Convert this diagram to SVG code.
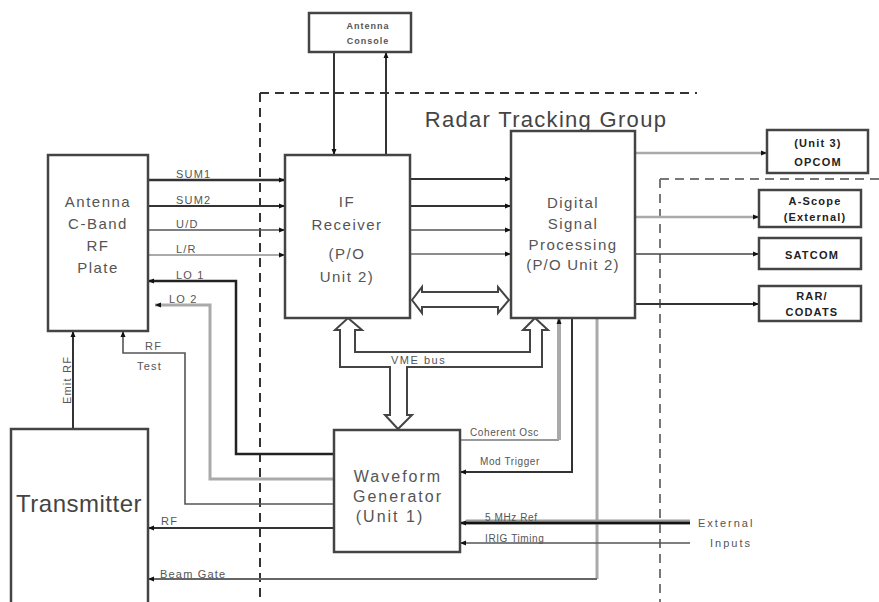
<svg xmlns="http://www.w3.org/2000/svg" width="879" height="602" viewBox="0 0 879 602">
<defs>
<marker id="ah" viewBox="0 0 6 6" refX="6" refY="3" markerWidth="6" markerHeight="6" markerUnits="userSpaceOnUse" orient="auto"><path d="M0,0.5 L6,3 L0,5.5 z" fill="#111"/></marker>
<style>
text{font-family:"Liberation Sans",Arial,sans-serif;fill:#555}
.box{fill:#fff;stroke:#444;stroke-width:2.5}
.big{font-size:15px;letter-spacing:1.5px;text-anchor:middle}
.lbl{font-size:11px;letter-spacing:1.2px}
.out{font-size:11px;font-weight:bold;letter-spacing:1.2px;text-anchor:middle;fill:#222}
.dk{fill:none;stroke:#333;stroke-width:2}
.md{fill:none;stroke:#555;stroke-width:1.6}
.lt{fill:none;stroke:#aaa;stroke-width:3}
.dash{fill:none;stroke:#333;stroke-width:2;stroke-dasharray:9,6}
.dashl{fill:none;stroke:#777;stroke-width:2;stroke-dasharray:9,6}
.hollow{fill:#fff;stroke:#444;stroke-width:2;stroke-linejoin:miter}
</style>
</defs>
<rect width="879" height="602" fill="#fff"/>

<g id="boundaries">
<path class="dash" d="M260,93 H697 M260,93 V602"/>
<path class="dashl" d="M660,179 H879 M660,179 V602"/>
<text x="546" y="127" style="font-size:22px;letter-spacing:1.3px;text-anchor:middle;fill:#444">Radar Tracking Group</text>
</g>

<g id="connectors">
<!-- Antenna console -->
<path class="dk" d="M334,52 V155" marker-end="url(#ah)"/>
<path class="dk" d="M386,155 V52" marker-end="url(#ah)"/>
<!-- Antenna plate to IF receiver -->
<path class="dk" style="stroke-width:2.5" d="M148,180 H285" marker-end="url(#ah)"/>
<path class="dk" d="M148,206 H285" marker-end="url(#ah)"/>
<path class="md" d="M148,230 H285" marker-end="url(#ah)"/>
<path class="lt" style="stroke-width:2.2" d="M148,255 H285" marker-end="url(#ah)"/>
<!-- IF to DSP -->
<path class="dk" d="M410,179 H511" marker-end="url(#ah)"/>
<path class="dk" d="M410,206 H511" marker-end="url(#ah)"/>
<path class="md" d="M410,230 H511" marker-end="url(#ah)"/>
<path class="md" style="stroke:#666" d="M410,254 H511" marker-end="url(#ah)"/>
<!-- LO1, LO2, RF Test -->
<path class="dk" style="stroke-width:2.5;stroke:#222" d="M334,454 H236 V281 H148" marker-end="url(#ah)"/>
<path class="lt" d="M334,479 H210 V305 H155" marker-end="url(#ah)"/>
<path class="md" d="M334,504 H185 V353 H123 V331" marker-end="url(#ah)"/>
<!-- Emit RF -->
<path class="dk" d="M73,429 V331" marker-end="url(#ah)"/>
<!-- RF to transmitter -->
<path class="dk" d="M334,528 H148" marker-end="url(#ah)"/>
<!-- Beam gate -->
<path class="lt" d="M597,318 V579"/>
<path class="md" style="stroke:#666;stroke-width:2" d="M597,579 H148" marker-end="url(#ah)"/>
<!-- Coherent Osc -->
<path class="md" style="stroke:#777" d="M460,440 H559"/>
<path class="lt" style="stroke-width:4" d="M559,440 V318" marker-end="url(#ah)"/>
<!-- Mod Trigger -->
<path class="dk" d="M572,318 V472 H460" marker-end="url(#ah)"/>
<!-- External inputs -->
<path fill="none" stroke="#999" stroke-width="5" d="M690,522 H466"/>
<path class="dk" style="stroke:#111;stroke-width:2.5" d="M690,523 H460" marker-end="url(#ah)"/>
<path class="md" d="M690,543 H460" marker-end="url(#ah)"/>
<!-- DSP outputs -->
<path class="lt" style="stroke-width:2.5" d="M635,153 H767" marker-end="url(#ah)"/>
<path class="lt" style="stroke-width:2.5" d="M635,217 H759" marker-end="url(#ah)"/>
<path class="md" style="stroke:#444" d="M635,254 H759" marker-end="url(#ah)"/>
<path class="dk" d="M635,304 H759" marker-end="url(#ah)"/>
<!-- IF <-> DSP double arrow -->
<path class="hollow" d="M412,300 L422,287 L422,292 L498,292 L498,287 L509,300 L498,313 L498,307 L422,307 L422,313 Z"/>
<!-- VME bus -->
<path class="hollow" d="M348,318 L362,330 L355,330 L355,352 L530,352 L530,330 L523,330 L535,318 L548,330 L542,330 L542,367 L407,367 L407,415 L412,415 L398,429 L385,415 L390,415 L390,367 L340,367 L340,330 L335,330 Z"/>
</g>

<g id="labels">
<text class="lbl" x="176" y="178">SUM1</text>
<text class="lbl" x="176" y="204">SUM2</text>
<text class="lbl" x="176" y="228">U/D</text>
<text class="lbl" x="176" y="253">L/R</text>
<text class="lbl" x="176" y="279">LO 1</text>
<text class="lbl" x="169" y="303">LO 2</text>
<text class="lbl" x="145" y="350">RF</text>
<text class="lbl" x="137" y="370">Test</text>
<text class="lbl" transform="translate(71,380) rotate(-90)" style="text-anchor:middle">Emit RF</text>
<text class="lbl" x="161" y="525">RF</text>
<text class="lbl" x="160" y="578">Beam Gate</text>
<text class="lbl" x="470" y="436" style="font-size:10px;letter-spacing:0.6px">Coherent Osc</text>
<text class="lbl" x="480" y="465" style="font-size:10px;letter-spacing:0.6px">Mod Trigger</text>
<text class="lbl" x="485" y="521" style="font-size:10px;letter-spacing:0.6px">5 MHz Ref</text>
<text class="lbl" x="485" y="542" style="font-size:10px;letter-spacing:0.6px">IRIG Timing</text>
<text class="lbl" x="391" y="364" style="letter-spacing:1.5px">VME bus</text>
<text class="lbl" x="698" y="527" style="letter-spacing:2px">External</text>
<text class="lbl" x="710" y="547" style="letter-spacing:2px">Inputs</text>
</g>

<g id="antenna-console">
<rect class="box" x="309" y="13" width="102" height="39"/>
<text x="368" y="29" style="font-size:9px;font-weight:bold;letter-spacing:1px;text-anchor:middle">Antenna</text>
<text x="368" y="44" style="font-size:9px;font-weight:bold;letter-spacing:1px;text-anchor:middle">Console</text>
</g>

<g id="antenna-plate">
<rect class="box" x="48" y="155" width="100" height="176"/>
<text class="big" x="98" y="207">Antenna</text>
<text class="big" x="98" y="229">C-Band</text>
<text class="big" x="98" y="251">RF</text>
<text class="big" x="98" y="273">Plate</text>
</g>

<g id="if-receiver">
<rect class="box" x="285" y="155" width="125" height="163"/>
<text class="big" x="347" y="207">IF</text>
<text class="big" x="347" y="230">Receiver</text>
<text class="big" x="347" y="259">(P/O</text>
<text class="big" x="347" y="282">Unit 2)</text>
</g>

<g id="dsp">
<rect class="box" x="511" y="131" width="124" height="187"/>
<text class="big" x="573" y="208">Digital</text>
<text class="big" x="573" y="229">Signal</text>
<text class="big" x="573" y="250">Processing</text>
<text class="big" x="573" y="270" style="letter-spacing:1.2px">(P/O Unit 2)</text>
</g>

<g id="waveform-generator">
<rect class="box" x="334" y="430" width="126" height="122"/>
<text class="big" x="398" y="482" style="font-size:16px;letter-spacing:2px">Waveform</text>
<text class="big" x="398" y="502" style="font-size:16px;letter-spacing:2px">Generator</text>
<text class="big" x="390" y="522" style="font-size:16px;letter-spacing:2px">(Unit 1)</text>
</g>

<g id="transmitter">
<rect class="box" x="11" y="429" width="137" height="185"/>
<text x="79" y="512" style="font-size:24px;letter-spacing:0.5px;text-anchor:middle;fill:#444">Transmitter</text>
</g>

<g id="opcom">
<rect class="box" x="767" y="130" width="101" height="43"/>
<text class="out" x="818" y="147">(Unit 3)</text>
<text class="out" x="818" y="166">OPCOM</text>
</g>

<g id="a-scope">
<rect class="box" x="759" y="190" width="102" height="37"/>
<text class="out" x="815" y="205">A-Scope</text>
<text class="out" x="815" y="221">(External)</text>
</g>

<g id="satcom">
<rect class="box" x="759" y="238" width="102" height="31"/>
<text class="out" x="812" y="259">SATCOM</text>
</g>

<g id="rar-codats">
<rect class="box" x="759" y="286" width="102" height="35"/>
<text class="out" x="812" y="300">RAR/</text>
<text class="out" x="812" y="316">CODATS</text>
</g>
</svg>
